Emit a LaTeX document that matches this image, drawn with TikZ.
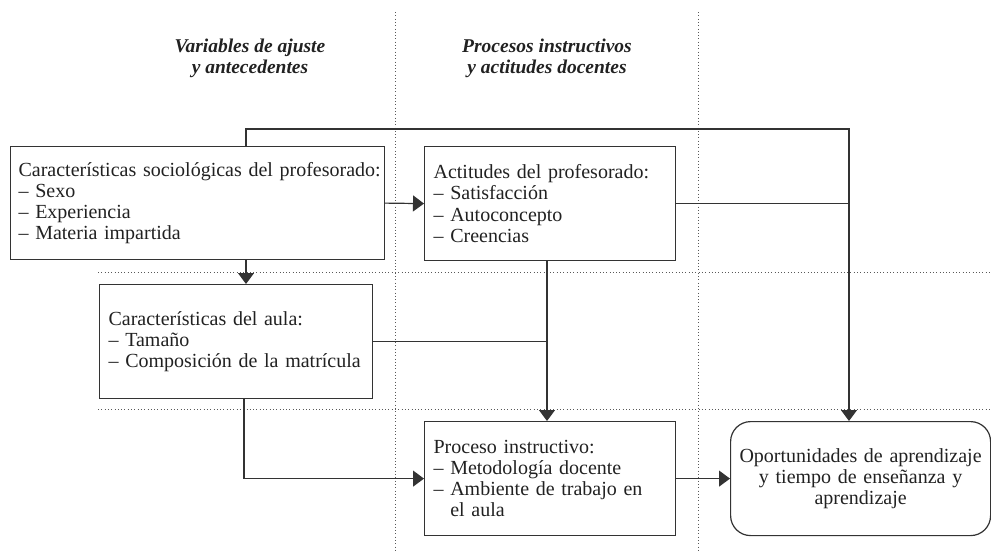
\documentclass[tikz,border=0pt]{standalone}
\usepackage{fontspec}
\setmainfont{Liberation Serif}
\usetikzlibrary{arrows.meta}
\definecolor{ln}{gray}{0.2}
\definecolor{dotc}{gray}{0.35}
\definecolor{txt}{gray}{0.13}
\begin{document}
\begin{tikzpicture}[x=1pt,y=-1pt,
  every node/.style={text=txt},
  box/.style={draw=ln, line width=1.2pt, anchor=north west, align=left,
    inner xsep=9pt, inner ysep=0pt, font=\fontsize{20}{21.2}\selectfont},
  rbox/.style={box, rounded corners=20pt, align=center},
  head/.style={align=center, font=\fontsize{19.5}{21}\selectfont\bfseries\itshape},
  conn/.style={draw=ln, line width=1.2pt},
  arr/.style={conn, -{Triangle[length=11pt,width=16pt]}},
  dotl/.style={draw=dotc, line width=0.9pt, dash pattern=on 0.9pt off 2.4pt}
]
\useasboundingbox (0,0) rectangle (991,552);
% column / row guides
\coordinate (vA) at (395,12);
\coordinate (vB) at (698,12);
\coordinate (hA) at (98,272);
\coordinate (hB) at (98,409);
\coordinate (endR) at (991,552);
\draw[dotl] (vA) -- (vA |- endR);
\draw[dotl] (vB) -- (vB |- endR);
\draw[dotl] (hA) -- (hA -| endR);
\draw[dotl] (hB) -- (hB -| endR);
% headings
\node[head] (h1) at (250,58) {Variables de ajuste\\y antecedentes};
\node[head] (h2) at (547,58) {Procesos instructivos\\y actitudes docentes};
% boxes
\node[box, inner xsep=8pt, text width=358pt, minimum width=374pt, minimum height=113pt] (soc) at (10,146)
  {\mbox{Características sociológicas del profesorado:}\\– Sexo\\– Experiencia\\– Materia impartida};
\node[box, text width=233pt, minimum width=251pt, minimum height=114pt] (act) at (424,146)
  {Actitudes del profesorado:\\– Satisfacción\\– Autoconcepto\\– Creencias};
\node[box, text width=255pt, minimum width=273pt, minimum height=114pt] (aula) at (99,284)
  {Características del aula:\\– Tamaño\\– Composición de la matrícula};
\node[box, text width=233pt, minimum width=251pt, minimum height=114pt] (proc) at (424,421)
  {Proceso instructivo:\\– Metodología docente\\– Ambiente de trabajo en\\\hphantom{–}\ el aula};
\node[rbox, inner xsep=8pt, text width=244pt, minimum width=260pt, minimum height=114pt] (opp) at (730,421)
  {Oportunidades de aprendizaje\\y tiempo de enseñanza y\\aprendizaje};
% connector columns
\coordinate (c1) at (246,129);
\coordinate (c2) at (547,0);
\coordinate (c3) at (849,129);
\coordinate (c4) at (244,0);
% connectors
\draw[arr] (soc.north -| c1) -- (c1) -- (c3) -- (c3 |- opp.north);
\draw[arr] (soc.east) -- (act.west);
\draw[conn] (act.east) -- (act.east -| c3);
\draw[arr] (soc.south -| c1) -- (c1 |- aula.north);
\draw[arr] (act.south -| c2) -- (c2 |- proc.north);
\draw[conn] (aula.east) -- (aula.east -| c2);
\draw[arr] (aula.south -| c4) |- (proc.west);
\draw[arr] (proc.east) -- (opp.west);
\end{tikzpicture}
\end{document}
